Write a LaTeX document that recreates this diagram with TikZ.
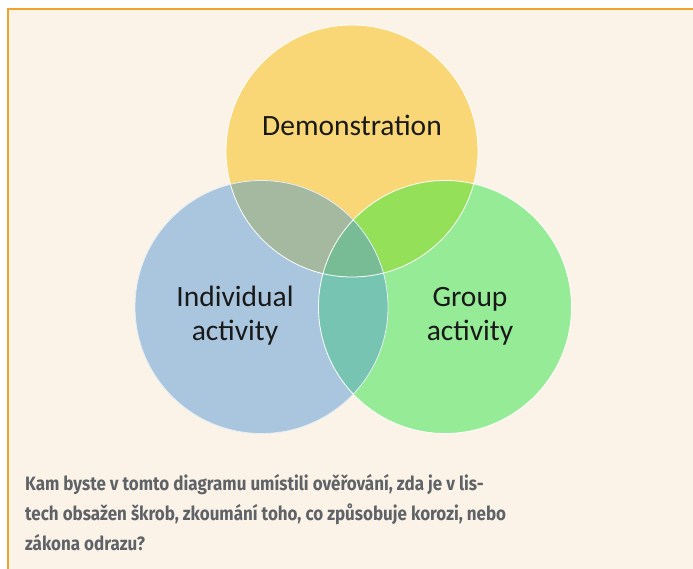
\documentclass[tikz,border=0pt]{standalone}
\usepackage{fontspec}
\setmainfont{Carlito}
\newfontfamily\qfont[FakeStretch=0.88]{Fira Sans}
\definecolor{bgbeige}{HTML}{FBF3E8}
\definecolor{frameorange}{HTML}{F4A22E}
\definecolor{cyellow}{HTML}{FAD776}
\definecolor{cblue}{HTML}{A9C6DE}
\definecolor{cgreen}{HTML}{95EB96}
\definecolor{cyb}{HTML}{A5B8A0}
\definecolor{cyg}{HTML}{94E058}
\definecolor{cbg}{HTML}{78C4B2}
\definecolor{cybg}{HTML}{78BC96}
\definecolor{qgray}{HTML}{5F6368}
\tikzset{
  circlabel/.style={font=\fontsize{29.5}{34}\selectfont, text=black!90, align=center, inner sep=0pt},
  qline/.style={font=\qfont\bfseries\fontsize{19.3}{22}\selectfont, text=qgray, anchor=base west, inner sep=0pt},
  rim/.style={draw=white, line width=0.8pt}
}
\begin{document}
\begin{tikzpicture}[x=1pt,y=-1pt]
\useasboundingbox (0,0) rectangle (693,569);
\fill[white] (0,0) rectangle (693,569);
\fill[bgbeige] (8,9) rectangle (693,569);
\draw[frameorange, line width=1.6pt] (8,569) -- (8,9) -- (693,9);
% circles
\def\Yc{(352,151) circle (126)}
\def\Bc{(261.5,307) circle (126.5)}
\def\Gc{(445,307) circle (126.5)}
\fill[cyellow] \Yc;
\fill[cblue] \Bc;
\fill[cgreen] \Gc;
\begin{scope}\clip \Yc; \fill[cyb] \Bc; \end{scope}
\begin{scope}\clip \Yc; \fill[cyg] \Gc; \end{scope}
\begin{scope}\clip \Bc; \fill[cbg] \Gc; \end{scope}
\begin{scope}\clip \Yc; \clip \Bc; \fill[cybg] \Gc; \end{scope}
\draw[rim] \Yc;
\draw[rim, draw=white!70!cblue] \Bc;
\draw[rim] \Gc;
% labels
\node[circlabel] (demo) at (352,125) {Demonstration};
\node[circlabel] (indiv) at (235,316) {Individual\\activity};
\node[circlabel] (group) at (470,316) {Group\\activity};
% question
\node[qline] (q1) at (25,490) {Kam byste v tomto diagramu umístili ověřování, zda je v lis-};
\node[qline] (q2) at (25,520) {tech obsažen škrob, zkoumání toho, co způsobuje korozi, nebo};
\node[qline] (q3) at (25,550) {zákona odrazu?};
\end{tikzpicture}
\end{document}
